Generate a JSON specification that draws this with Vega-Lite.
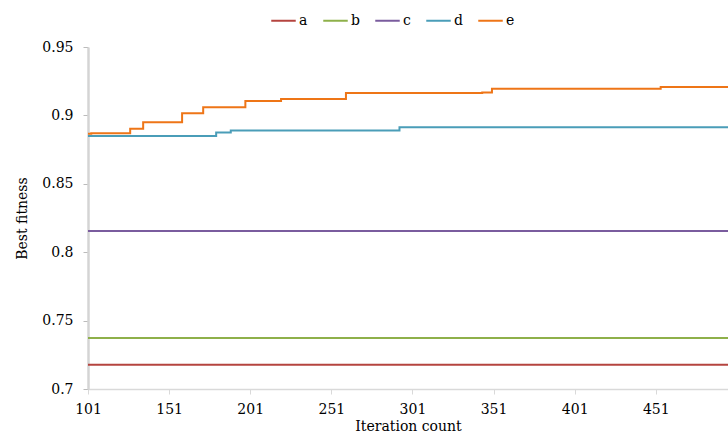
{
  "$schema": "https://vega.github.io/schema/vega-lite/v6.json",
  "width": 640,
  "height": 342,
  "autosize": "none",
  "padding": {"left": 88, "top": 47, "right": 0, "bottom": 53},
  "background": "white",
  "config": {
    "view": {"stroke": null},
    "font": "DejaVu Serif",
    "axis": {"labelFont": "DejaVu Serif", "titleFont": "DejaVu Serif"},
    "legend": {"labelFont": "DejaVu Serif"}
  },
  "data": {
    "values": [
      {"x": 101, "v": 0.7178, "s": "a"},
      {"x": 501, "v": 0.7178, "s": "a"},
      {"x": 101, "v": 0.7373, "s": "b"},
      {"x": 501, "v": 0.7373, "s": "b"},
      {"x": 101, "v": 0.8155, "s": "c"},
      {"x": 501, "v": 0.8155, "s": "c"},
      {"x": 101, "v": 0.885, "s": "d"},
      {"x": 180, "v": 0.8875, "s": "d"},
      {"x": 189, "v": 0.889, "s": "d"},
      {"x": 293, "v": 0.8913, "s": "d"},
      {"x": 501, "v": 0.8913, "s": "d"},
      {"x": 101, "v": 0.8865, "s": "e"},
      {"x": 103, "v": 0.887, "s": "e"},
      {"x": 127, "v": 0.8903, "s": "e"},
      {"x": 135, "v": 0.895, "s": "e"},
      {"x": 159, "v": 0.9015, "s": "e"},
      {"x": 172, "v": 0.906, "s": "e"},
      {"x": 198, "v": 0.9105, "s": "e"},
      {"x": 220, "v": 0.912, "s": "e"},
      {"x": 260, "v": 0.9164, "s": "e"},
      {"x": 344, "v": 0.9168, "s": "e"},
      {"x": 350, "v": 0.9195, "s": "e"},
      {"x": 454, "v": 0.9208, "s": "e"},
      {"x": 501, "v": 0.9208, "s": "e"}
    ]
  },
  "mark": {"type": "line", "interpolate": "step-after", "clip": true},
  "encoding": {
    "x": {
      "field": "x",
      "type": "quantitative",
      "scale": {"domain": [101, 495.5], "nice": false, "zero": false},
      "axis": {
        "values": [101, 151, 201, 251, 301, 351, 401, 451],
        "labelFlush": false,
        "title": "Iteration count",
        "titleFontWeight": "normal",
        "titleFontSize": 14,
        "titleColor": "#000",
        "titlePadding": 3,
        "labelFontSize": 14,
        "labelColor": "#000",
        "labelPadding": 8,
        "domainColor": "#d9d9d9",
        "domainWidth": 1.5,
        "tickColor": "#d9d9d9",
        "tickSize": 5,
        "grid": false
      }
    },
    "y": {
      "field": "v",
      "type": "quantitative",
      "scale": {"domain": [0.7, 0.95], "nice": false, "zero": false},
      "axis": {
        "values": [0.7, 0.75, 0.8, 0.85, 0.9, 0.95],
        "labelExpr": "'' + datum.value",
        "labelFlush": false,
        "title": "Best fitness",
        "titleFontWeight": "normal",
        "titleFontSize": 14,
        "titleColor": "#000",
        "titlePadding": 12,
        "labelFontSize": 14,
        "labelColor": "#000",
        "labelPadding": 10,
        "domainColor": "#d4d4d4",
        "domainWidth": 2.5,
        "tickColor": "#bbbbbb",
        "tickSize": 5,
        "grid": false
      }
    },
    "color": {
      "field": "s",
      "type": "nominal",
      "scale": {
        "domain": ["a", "b", "c", "d", "e"],
        "range": ["#B5443F", "#8EB04A", "#7A5C9E", "#4A9DB8", "#EE7517"]
      },
      "legend": {
        "title": null,
        "orient": "none",
        "direction": "horizontal",
        "legendX": 182,
        "legendY": -40,
        "symbolType": "stroke",
        "symbolSize": 600,
        "symbolStrokeWidth": 3,
        "labelFontSize": 14,
        "labelColor": "#000",
        "labelOffset": 2,
        "columnPadding": 11
      }
    },
    "strokeWidth": {
      "field": "s",
      "type": "nominal",
      "scale": {"domain": ["a", "b", "c", "d", "e"], "range": [2, 2, 2.5, 3, 3.2]},
      "legend": null
    }
  }
}
